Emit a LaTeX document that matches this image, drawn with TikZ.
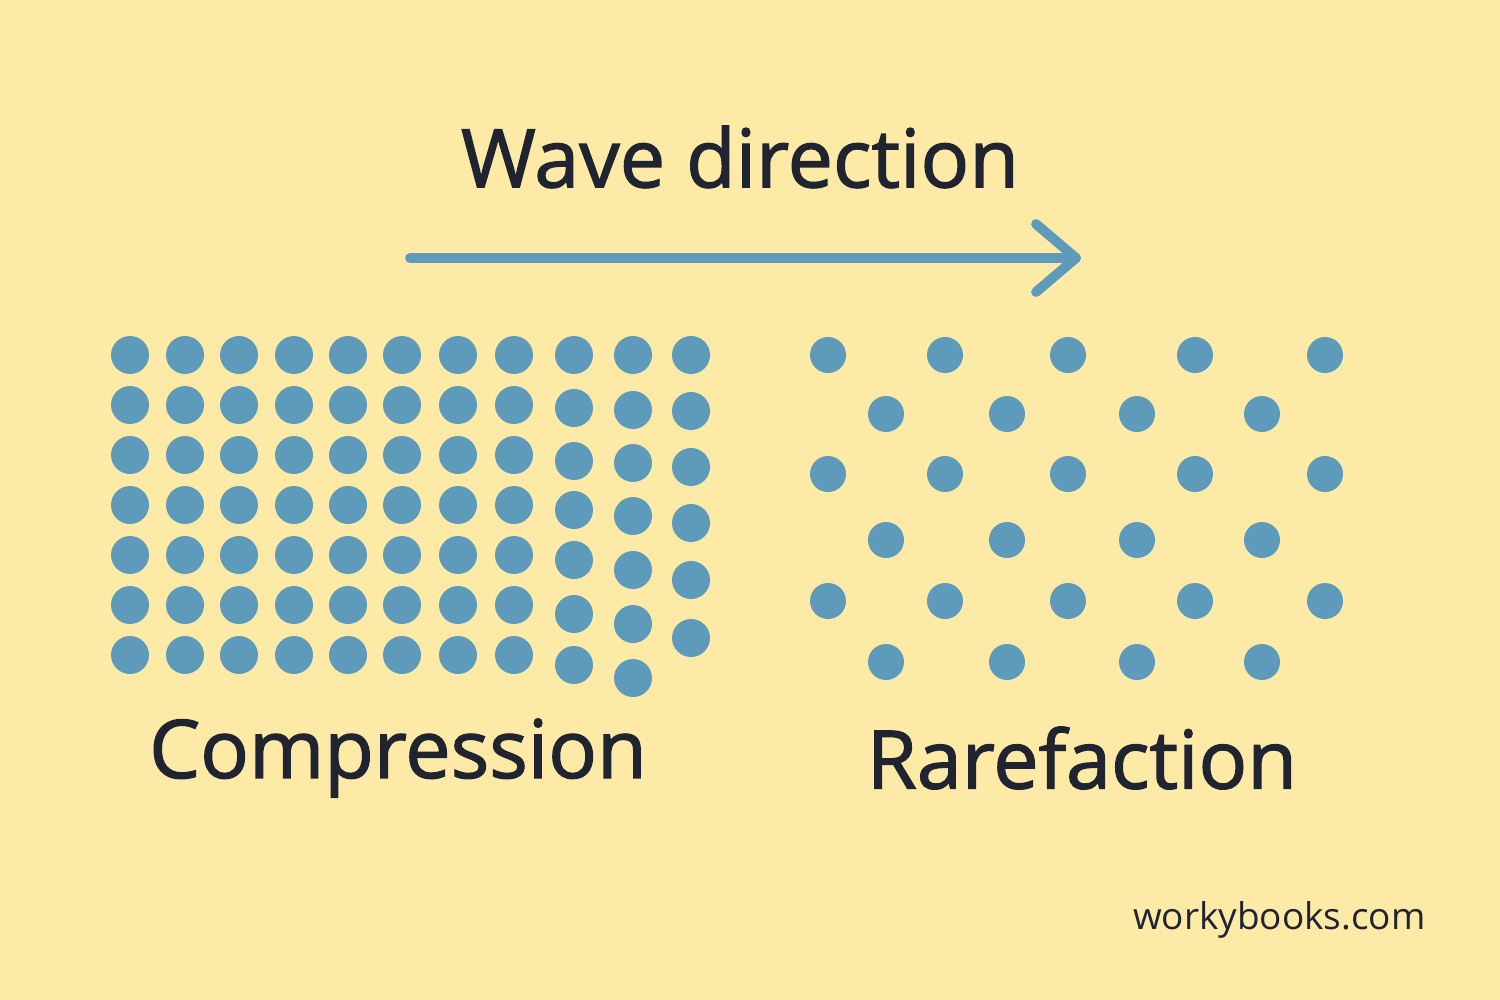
\documentclass[tikz,border=0pt]{standalone}
\usepackage{fontspec}
\setmainfont{Open Sans}
\newfontfamily\headfont[FakeBold=1.6]{Open Sans}
\definecolor{bgcolor}{HTML}{FDEAA7}
\definecolor{dotcolor}{HTML}{5E9BBB}
\definecolor{inkcolor}{HTML}{1F2430}
\tikzset{
  particle/.style={fill=dotcolor},
  label/.style={text=inkcolor,font=\headfont\fontsize{23}{28}\selectfont},
  wavearrow/.style={draw=dotcolor,line width=2.8pt,line cap=round,line join=round}
}
\begin{document}
\begin{tikzpicture}[x=0.01cm,y=-0.01cm]
% background
\fill[bgcolor] (0,0) rectangle (1500,1000);
\useasboundingbox (0,0) rectangle (1500,1000);
% title and arrow
\node[label] (title) at (740,157) {Wave direction};
\coordinate (start) at (410,258);
\coordinate (tip) at (1076,258);
\draw[wavearrow] (start) -- (tip);
\draw[wavearrow] (1036,224) -- (tip) -- (1036,292);
% compression: regular columns
\foreach \x in {130,185,239,294,348,402,458,514}
  \foreach \y in {355,405,455,505,555,605,655}
    \fill[particle] (\x,\y) circle (19);
% compression: spreading columns
\foreach \y in {355,408,461,510,560,614,665}
  \fill[particle] (574,\y) circle (19);
\foreach \y in {355,410,463,516,570,624,678}
  \fill[particle] (633,\y) circle (19);
\foreach \y in {355,411,467,523,580,638}
  \fill[particle] (691,\y) circle (19);
% rarefaction
\foreach \y in {355,474,601}
  \foreach \x in {828,945,1068,1195,1325}
    \fill[particle] (\x,\y) circle (18);
\foreach \y in {414,540,662}
  \foreach \x in {886,1007,1137,1262}
    \fill[particle] (\x,\y) circle (18);
% labels
\node[label] (compression) at (398,758) {Compression};
\node[label] (rarefaction) at (1082,758) {Rarefaction};
\node[anchor=east,text=inkcolor,font=\fontsize{10.5}{13}\selectfont] (site) at (1438,920) {workybooks.com};
\end{tikzpicture}
\end{document}
